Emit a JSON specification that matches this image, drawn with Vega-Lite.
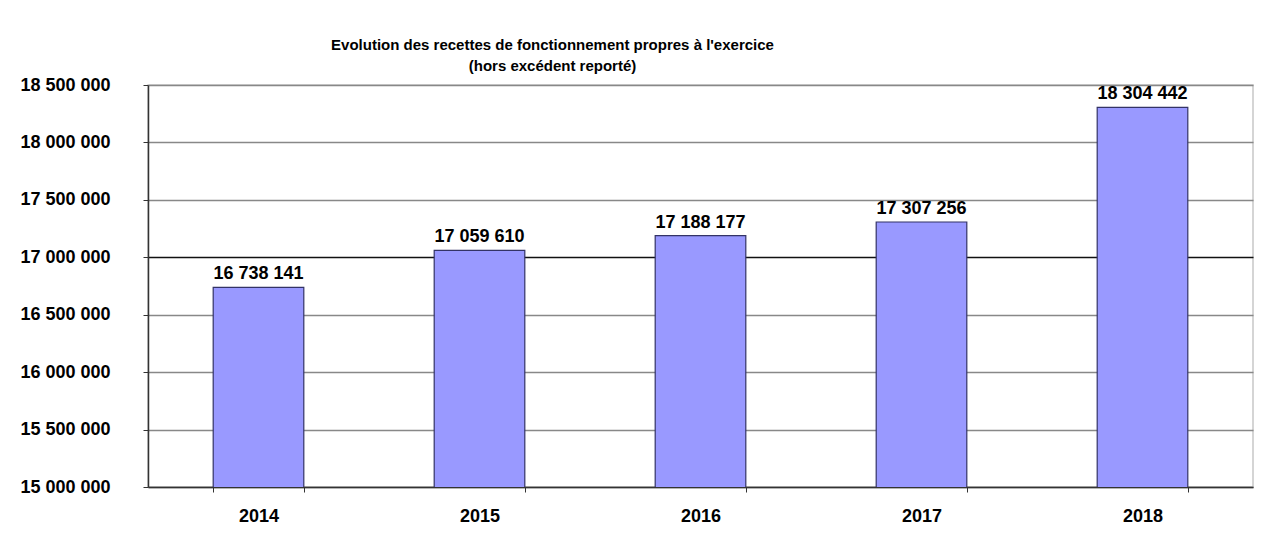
{
  "$schema": "https://vega.github.io/schema/vega-lite/v6.json",
  "autosize": {"type": "none"},
  "width": 1105,
  "height": 402,
  "padding": {"left": 148, "top": 85, "right": 18, "bottom": 65},
  "background": "white",
  "title": {
    "text": ["Evolution des recettes de fonctionnement propres à l'exercice", "(hors excédent reporté)"],
    "anchor": "middle",
    "frame": "group",
    "dx": -148,
    "offset": 2,
    "fontSize": 15,
    "fontWeight": "bold",
    "font": "Liberation Sans",
    "color": "black",
    "lineHeight": 21
  },
  "data": {
    "values": [
      {"year": "2014", "value": 16738141},
      {"year": "2015", "value": 17059610},
      {"year": "2016", "value": 17188177},
      {"year": "2017", "value": 17307256},
      {"year": "2018", "value": 18304442}
    ]
  },
  "encoding": {
    "x": {
      "field": "year",
      "type": "ordinal",
      "scale": {"paddingInner": 0.59, "paddingOuter": 0.295},
      "axis": {
        "title": null,
        "labelAngle": 0,
        "labelFontSize": 18,
        "labelFontWeight": "bold",
        "labelFont": "Liberation Sans",
        "labelColor": "black",
        "labelPadding": 15,
        "tickBand": "extent",
        "tickSize": 5,
        "tickColor": "#333",
        "domainColor": "#333",
        "domainWidth": 1.5,
        "grid": false
      }
    },
    "y": {
      "field": "value",
      "type": "quantitative",
      "scale": {"domain": [15000000, 18500000], "nice": false, "zero": false},
      "axis": {
        "title": null,
        "values": [15000000, 15500000, 16000000, 16500000, 17000000, 17500000, 18000000, 18500000],
        "format": ",d",
        "labelFontSize": 18,
        "labelFontWeight": "bold",
        "labelFont": "Liberation Sans",
        "labelColor": "black",
        "labelPadding": 33,
        "tickSize": 5,
        "tickColor": "#333",
        "domainColor": "#333",
        "domainWidth": 1.5,
        "grid": true,
        "gridColor": {"condition": {"test": "datum.value == 17000000", "value": "#111"}, "value": "#888"},
        "gridWidth": 1.6,
        "gridOpacity": 1
      }
    }
  },
  "layer": [
    {
      "mark": {"type": "bar", "clip": true, "color": "#9999FF", "stroke": "#333366", "strokeWidth": 1.2}
    },
    {
      "mark": {"type": "text", "baseline": "bottom", "dy": -4, "fontSize": 18, "fontWeight": "bold", "font": "Liberation Sans", "color": "black"},
      "encoding": {
        "text": {"field": "value", "type": "quantitative", "format": ",d"}
      }
    }
  ],
  "config": {
    "locale": {"number": {"decimal": ",", "thousands": " ", "grouping": [3], "currency": ["", " €"]}},
    "view": {"stroke": "#c8c8c8", "strokeWidth": 1.5}
  }
}
